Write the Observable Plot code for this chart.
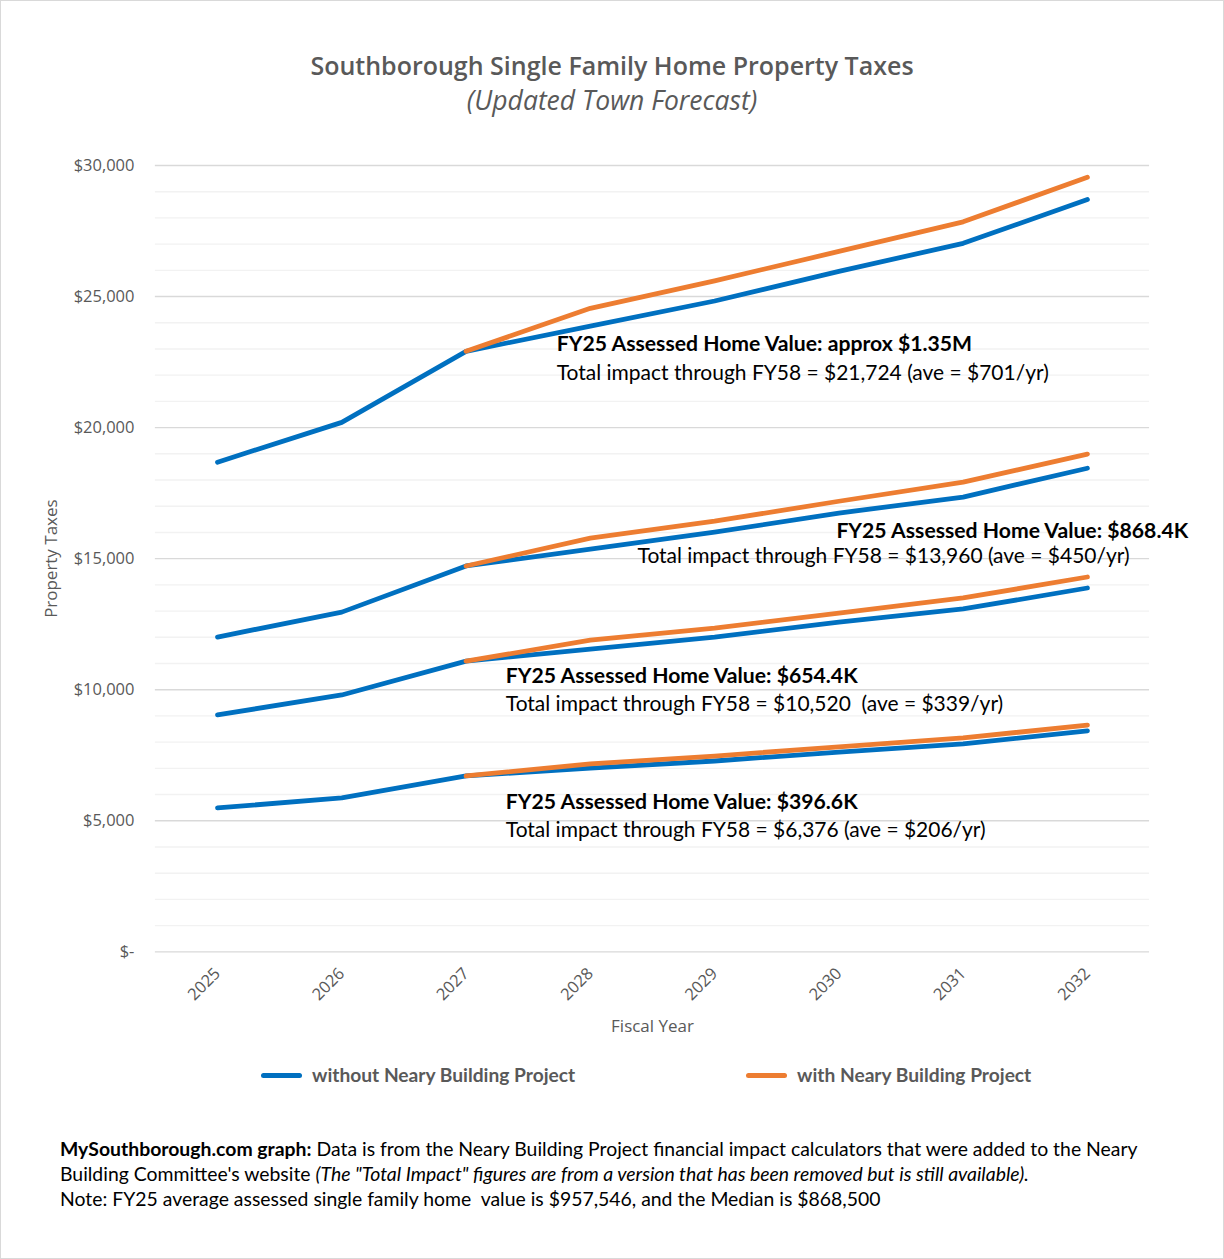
<!DOCTYPE html>
<html><head><meta charset="utf-8">
<script src="https://cdn.jsdelivr.net/npm/d3@7"></script>
<script src="https://cdn.jsdelivr.net/npm/@observablehq/plot@0.6"></script>
<style>
html,body{margin:0;padding:0;background:#fff;}
#wrap{position:relative;width:1224px;height:1259px;box-sizing:border-box;border:1px solid #d9d9d9;overflow:hidden;background:#fff;}
#title{position:absolute;left:0;width:1222px;top:47px;text-align:center;font-family:"Open Sans",sans-serif;font-size:25px;font-weight:600;color:#595959;line-height:34px;}
#subtitle{position:absolute;left:0;width:1222px;top:82px;text-align:center;font-family:"Open Sans",sans-serif;font-size:26.5px;font-style:italic;color:#595959;line-height:34px;}
#chart{position:absolute;left:-1px;top:139px;}
.leg{position:absolute;top:1061px;font-family:Lato,sans-serif;font-weight:700;font-size:19.2px;color:#595959;line-height:26px;}
.sw{position:absolute;top:1072px;width:41px;height:5px;border-radius:3px;}
#foot{position:absolute;left:59px;top:1135px;font-family:Lato,sans-serif;font-size:19.4px;color:#000;line-height:25px;white-space:nowrap;}
</style></head>
<body><div id="wrap">
<div id="title">Southborough Single Family Home Property Taxes</div>
<div id="subtitle">(Updated Town Forecast)</div>
<div id="chart"></div>
<div class="sw" style="left:260px;background:#0070C0"></div>
<div class="leg" style="left:311px">without Neary Building Project</div>
<div class="sw" style="left:745px;background:#ED7D31"></div>
<div class="leg" style="left:796px">with Neary Building Project</div>
<div id="foot"><b>MySouthborough.com graph:</b> Data is from the Neary Building Project financial impact calculators that were added to the Neary<br>Building Committee's website <i>(The "Total Impact" figures are from a version that has been removed but is still available).</i><br>Note: FY25 average assessed single family home&nbsp; value is $957,546, and the Median is $868,500</div>
</div>
<script>
const years = [2025, 2026, 2027, 2028, 2029, 2030, 2031, 2032];

// $1.35M home
const withoutA = [18680, 20200, 22910, 23870, 24830, 25960, 27030, 28700];
const withA    = [null, null, 22910, 24550, 25600, 26720, 27850, 29550];
// $868.4K home
const withoutB = [12010, 12960, 14720, 15360, 16010, 16740, 17350, 18450];
const withB    = [null, null, 14720, 15780, 16430, 17190, 17920, 18990];
// $654.4K home
const withoutC = [9040, 9800, 11090, 11550, 12010, 12580, 13080, 13880];
const withC    = [null, null, 11090, 11890, 12350, 12920, 13500, 14300];
// $396.6K home
const withoutD = [5490, 5870, 6710, 7010, 7280, 7620, 7930, 8430];
const withD    = [null, null, 6710, 7170, 7470, 7820, 8160, 8650];

const yMajorTicks = [0, 5000, 10000, 15000, 20000, 25000, 30000];
const yMinorTicks = d3.range(1000, 30000, 1000).filter(v => v % 5000 !== 0);

const noteBold = [
  {x: 2027.73, y: 23180, text: "FY25 Assessed Home Value: approx $1.35M"},
  {x: 2029.98, y: 16050, text: "FY25 Assessed Home Value: $868.4K"},
  {x: 2027.32, y: 10520, text: "FY25 Assessed Home Value: $654.4K"},
  {x: 2027.32, y: 5720,  text: "FY25 Assessed Home Value: $396.6K"}
];
const noteText = [
  {x: 2027.73, y: 22070, text: "Total impact through FY58 = $21,724 (ave = $701/yr)"},
  {x: 2028.38, y: 15100, text: "Total impact through FY58 = $13,960 (ave = $450/yr)"},
  {x: 2027.32, y: 9450,  text: "Total impact through FY58 = $10,520  (ave = $339/yr)"},
  {x: 2027.32, y: 4650,  text: "Total impact through FY58 = $6,376 (ave = $206/yr)"}
];

const series = [
  {key: "A-without", values: withoutA, color: "#0070C0"},
  {key: "B-without", values: withoutB, color: "#0070C0"},
  {key: "C-without", values: withoutC, color: "#0070C0"},
  {key: "D-without", values: withoutD, color: "#0070C0"},
  {key: "A-with", values: withA, color: "#ED7D31"},
  {key: "B-with", values: withB, color: "#ED7D31"},
  {key: "C-with", values: withC, color: "#ED7D31"},
  {key: "D-with", values: withD, color: "#ED7D31"}
];
const rows = series.flatMap(s => years.map((yr, i) => ({key: s.key, year: yr, value: s.values[i], color: s.color})).filter(r => r.value != null));

const fmt = d => d === 0 ? "$-" : "$" + d3.format(",")(d);

const plot = Plot.plot({
  width: 1224,
  height: 905,
  marginLeft: 155,
  marginRight: 74,
  marginTop: 25,
  marginBottom: 93,
  x: {domain: [2024.5, 2032.5]},
  y: {domain: [0, 30000]},
  style: {fontFamily: "'Open Sans', sans-serif", fontSize: "16.5px", color: "#595959", background: "transparent", overflow: "visible"},
  marks: [
    Plot.ruleY(yMinorTicks, {stroke: "#f2f2f2", strokeWidth: 1.4}),
    Plot.ruleY(yMajorTicks, {stroke: "#d9d9d9", strokeWidth: 1.4}),
    Plot.axisY(yMajorTicks, {tickSize: 0, tickPadding: 21, tickFormat: fmt, label: null, fill: "#595959", fontSize: 16.5}),
    Plot.axisX(years, {tickSize: 0, tickPadding: 19, tickRotate: -45, tickFormat: d => String(d), label: null, fill: "#595959", fontSize: 16.5}),
    Plot.text(["Property Taxes"], {frameAnchor: "left", textAnchor: "middle", dx: -104, rotate: -90, fontSize: 17, fill: "#595959"}),
    Plot.text(["Fiscal Year"], {frameAnchor: "bottom", dy: 80, fontSize: 17, fill: "#595959"}),
    Plot.line(rows, {x: "year", y: "value", z: "key", stroke: "color", strokeWidth: 4.8, strokeLinecap: "round", strokeLinejoin: "round"}),
    Plot.text(noteBold, {x: "x", y: "y", text: "text", textAnchor: "start", fontFamily: "Lato, sans-serif", fontWeight: "bold", fontSize: 21.2, fill: "#000"}),
    Plot.text(noteText, {x: "x", y: "y", text: "text", textAnchor: "start", fontFamily: "Lato, sans-serif", fontSize: 21, fill: "#000"})
  ]
});
document.getElementById("chart").appendChild(plot);
</script>
</body></html>
